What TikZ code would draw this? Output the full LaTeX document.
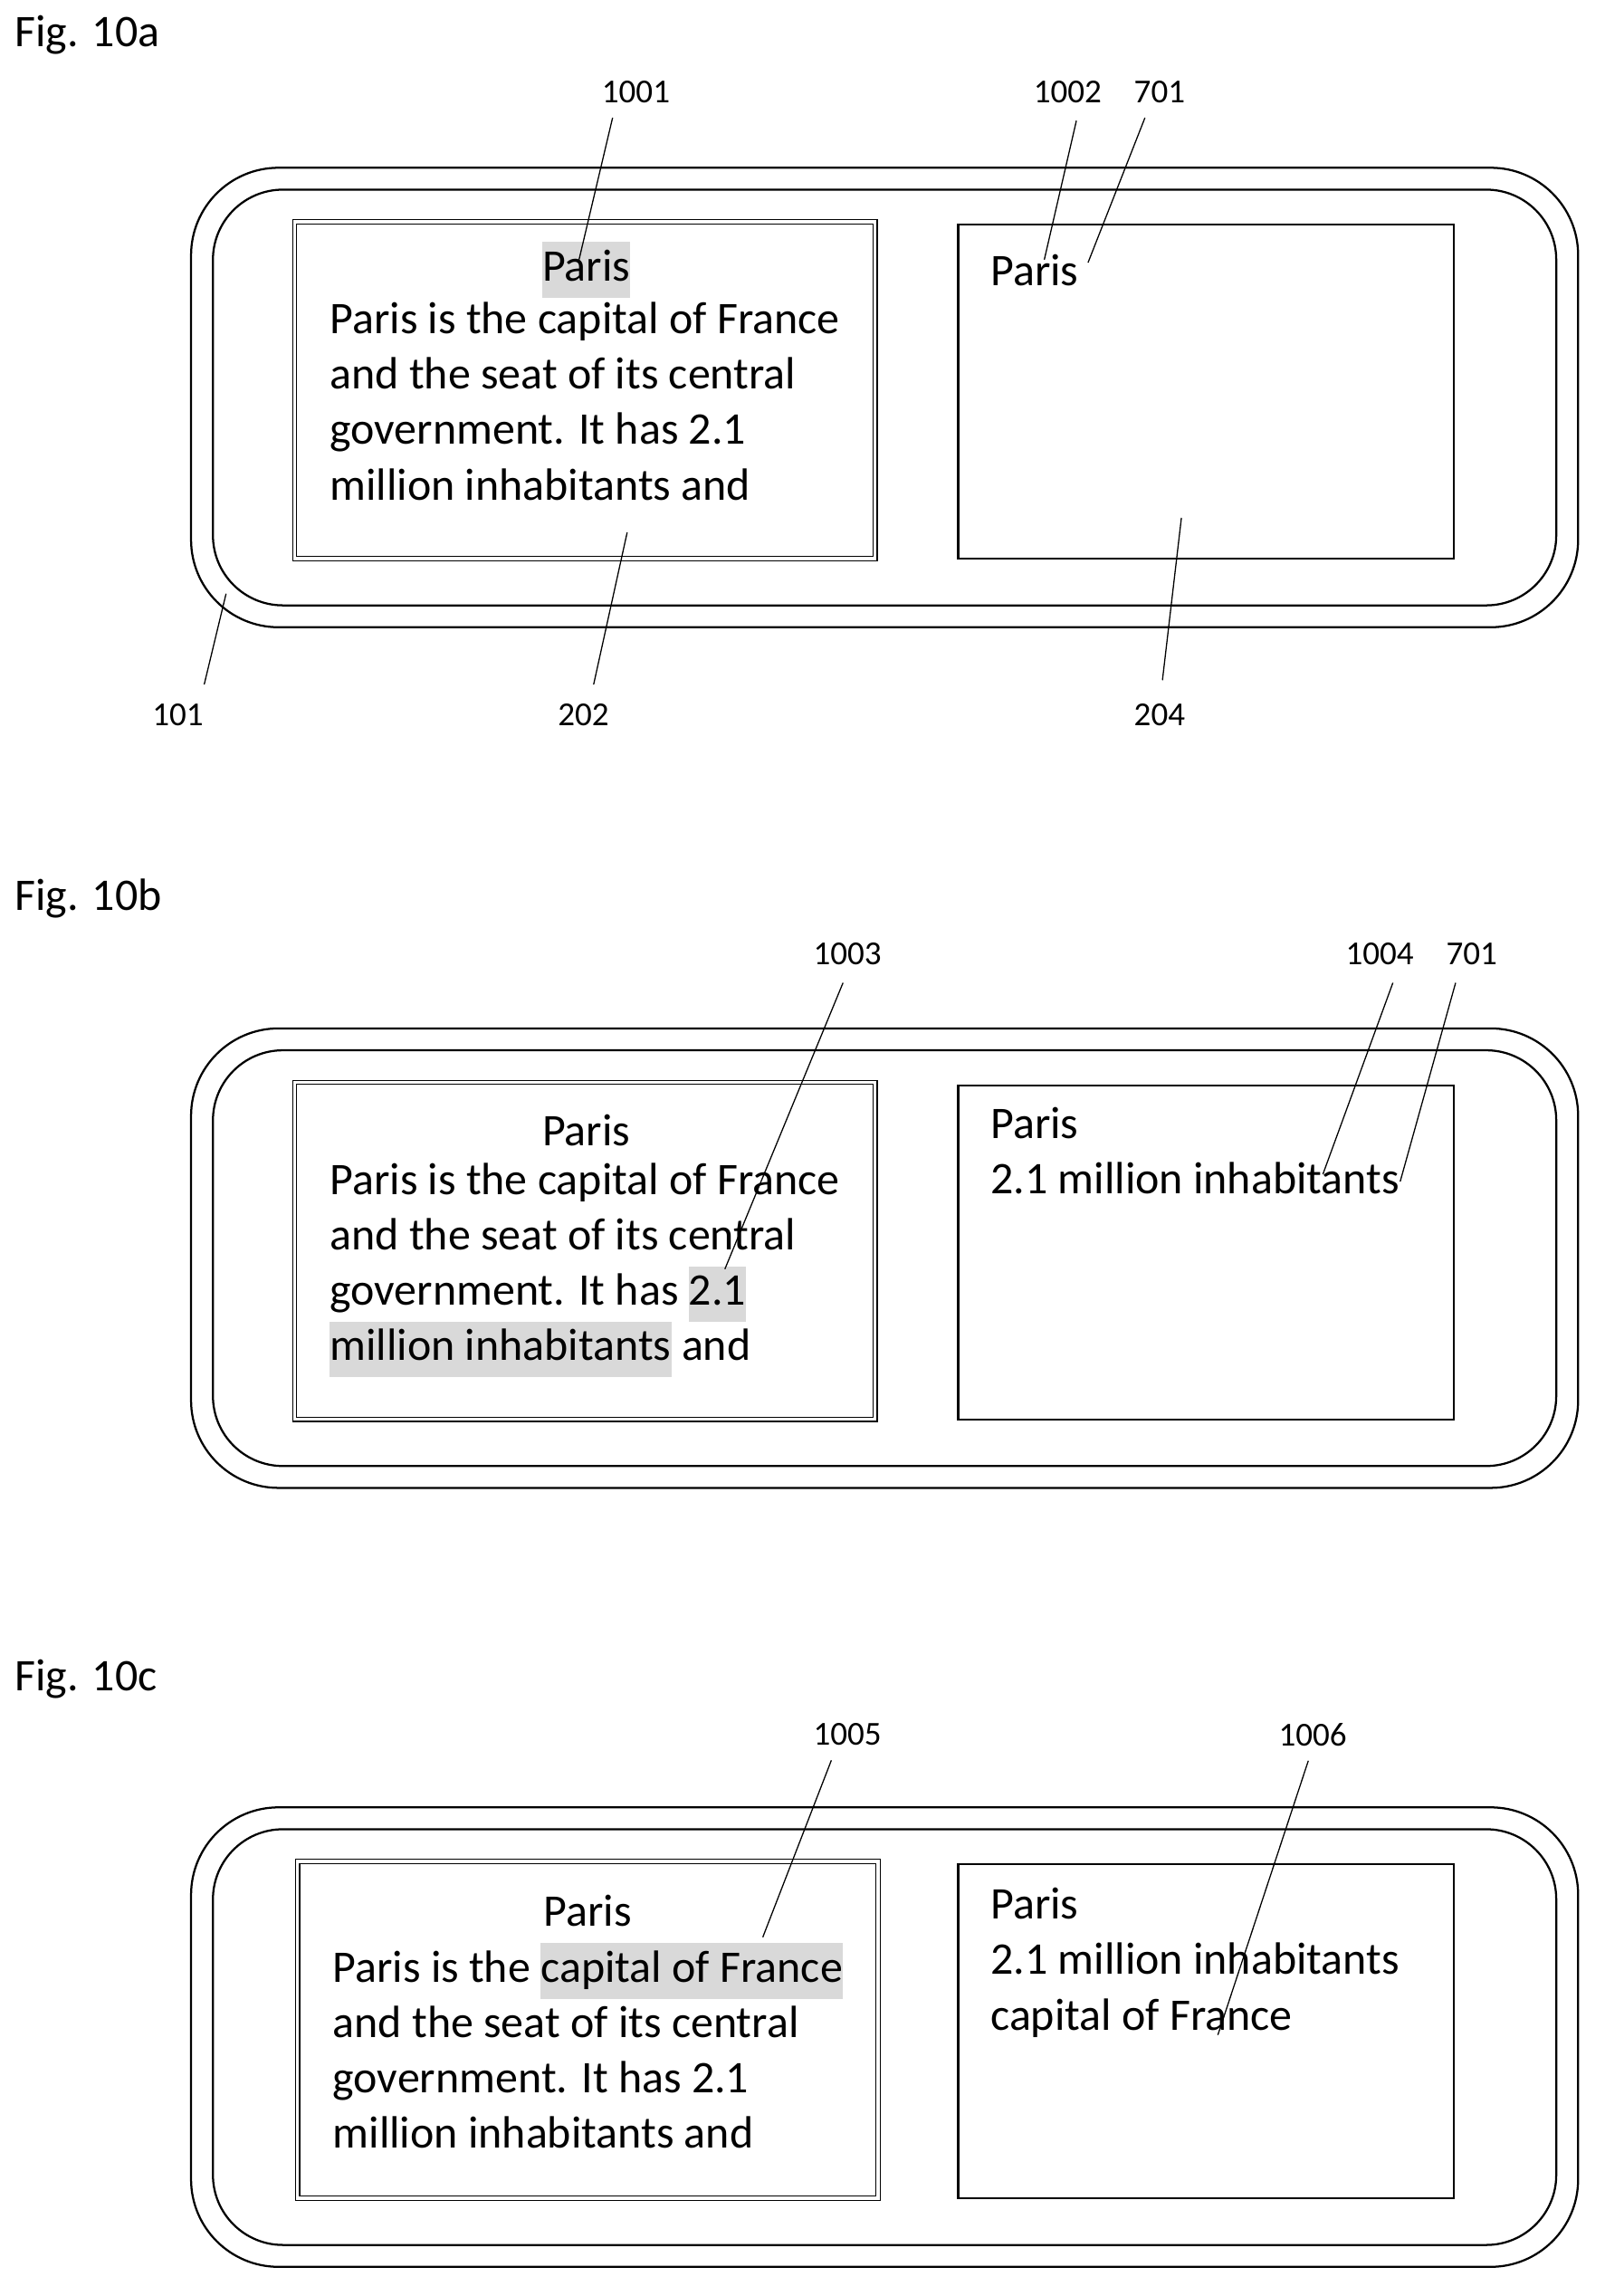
\documentclass[tikz,border=0pt]{standalone}
\usepackage{fontspec}
\setmainfont{Carlito}
\usetikzlibrary{positioning}
\definecolor{hlgray}{gray}{0.85}
\newcommand{\hl}[1]{{\setlength{\fboxsep}{0pt}\colorbox{hlgray}{\strut #1}}}
\tikzset{
    frame/.style={draw, line width=1.4pt, rounded corners=#1},
    dbox/.style={draw, line width=0.8pt, double, double distance=2pt},
    sbox/.style={draw, line width=1.4pt},
    body/.style={anchor=north west, align=left, inner sep=0pt,
        font=\fontsize{31}{38}\selectfont},
    title/.style={inner sep=0pt, font=\fontsize{31}{38}\selectfont},
    ref/.style={inner sep=0pt, font=\fontsize{23}{26}\selectfont},
    fig/.style={anchor=west, inner sep=0pt, font=\fontsize{31}{34}\selectfont},
    lead/.style={line width=0.8pt}
}
\begin{document}
\begin{tikzpicture}[x=1pt, y=-1pt]
    \useasboundingbox (0,0) rectangle (1100,1574);
    % Fig. 10a
    \node (fig_a) [fig] at (10,24) {Fig. 10a};
    \draw[frame=60pt] (131,115) rectangle (1082,430);
    \draw[frame=48pt] (146,130) rectangle (1067,415);
    \draw[dbox] (202,152) rectangle (600,383);
    \draw[sbox] (657,154) rectangle (997,383);
    \node (paris_a) [title] at (402,185) {\hl{Paris}};
    \node (text_a) [body] at (226,207)
    {
        Paris is the capital of France\\
        and the seat of its central\\
        government. It has 2.1\\
        million inhabitants and
    };
    \node (paris_a_right) [title, anchor=west] at (679,185) {Paris};
    \node (ref_1001) [ref] at (436,63) {1001};
    \node (ref_1002) [ref] at (732,63) {1002};
    \node (ref_701_a) [ref] at (795,63) {701};
    \node (ref_101) [ref] at (122,490) {101};
    \node (ref_202) [ref] at (400,490) {202};
    \node (ref_204) [ref] at (795,490) {204};
    \coordinate (tip_1001) at (397,178);
    \coordinate (tip_1002) at (716,178);
    \coordinate (tip_701_a) at (746,180);
    \coordinate (tip_101) at (155,407);
    \coordinate (tip_202) at (430,365);
    \coordinate (tip_204) at (810,355);
    \draw[lead] (ref_1001.south) ++(-16,10) -- (tip_1001);
    \draw[lead] (ref_1002.south) ++(6,12) -- (tip_1002);
    \draw[lead] (ref_701_a.south) ++(-10,10) -- (tip_701_a);
    \draw[lead] (ref_101.north) ++(18,-13) -- (tip_101);
    \draw[lead] (ref_202.north) ++(7,-13) -- (tip_202);
    \draw[lead] (ref_204.north) ++(2,-16) -- (tip_204);
    % Fig. 10b
    \node (fig_b) [fig] at (10,616) {Fig. 10b};
    \draw[frame=60pt] (131,705) rectangle (1082,1020);
    \draw[frame=48pt] (146,720) rectangle (1067,1005);
    \draw[dbox] (202,742) rectangle (600,973);
    \draw[sbox] (657,744) rectangle (997,973);
    \node (paris_b) [title] at (402,775) {Paris};
    \node (text_b) [body] at (226,797)
    {
        Paris is the capital of France\\
        and the seat of its central\\
        government. It has \hl{2.1}\\
        \hl{million inhabitants} and
    };
    \node (text_b_right) [body] at (679,759)
    {
        Paris\\
        2.1 million inhabitants
    };
    \node (ref_1003) [ref] at (581,654) {1003};
    \node (ref_1004) [ref] at (946,654) {1004};
    \node (ref_701_b) [ref] at (1009,654) {701};
    \coordinate (tip_1003) at (497,870);
    \coordinate (tip_1004) at (907,805);
    \coordinate (tip_701_b) at (960,810);
    \draw[lead] (ref_1003.south) ++(-3,12) -- (tip_1003);
    \draw[lead] (ref_1004.south) ++(9,12) -- (tip_1004);
    \draw[lead] (ref_701_b.south) ++(-11,12) -- (tip_701_b);
    % Fig. 10c
    \node (fig_c) [fig] at (10,1151) {Fig. 10c};
    \draw[frame=60pt] (131,1239) rectangle (1082,1554);
    \draw[frame=48pt] (146,1254) rectangle (1067,1539);
    \draw[dbox] (204,1276) rectangle (602,1507);
    \draw[sbox] (657,1278) rectangle (997,1507);
    \node (paris_c) [title] at (403,1310) {Paris};
    \node (text_c) [body] at (228,1332)
    {
        Paris is the \hl{capital of France}\\
        and the seat of its central\\
        government. It has 2.1\\
        million inhabitants and
    };
    \node (text_c_right) [body] at (679,1294)
    {
        Paris\\
        2.1 million inhabitants\\
        capital of France
    };
    \node (ref_1005) [ref] at (581,1189) {1005};
    \node (ref_1006) [ref] at (900,1189) {1006};
    \coordinate (tip_1005) at (523,1328);
    \coordinate (tip_1006) at (835,1395);
    \draw[lead] (ref_1005.south) ++(-11,10) -- (tip_1005);
    \draw[lead] (ref_1006.south) ++(-3,10) -- (tip_1006);
\end{tikzpicture}
\end{document}
